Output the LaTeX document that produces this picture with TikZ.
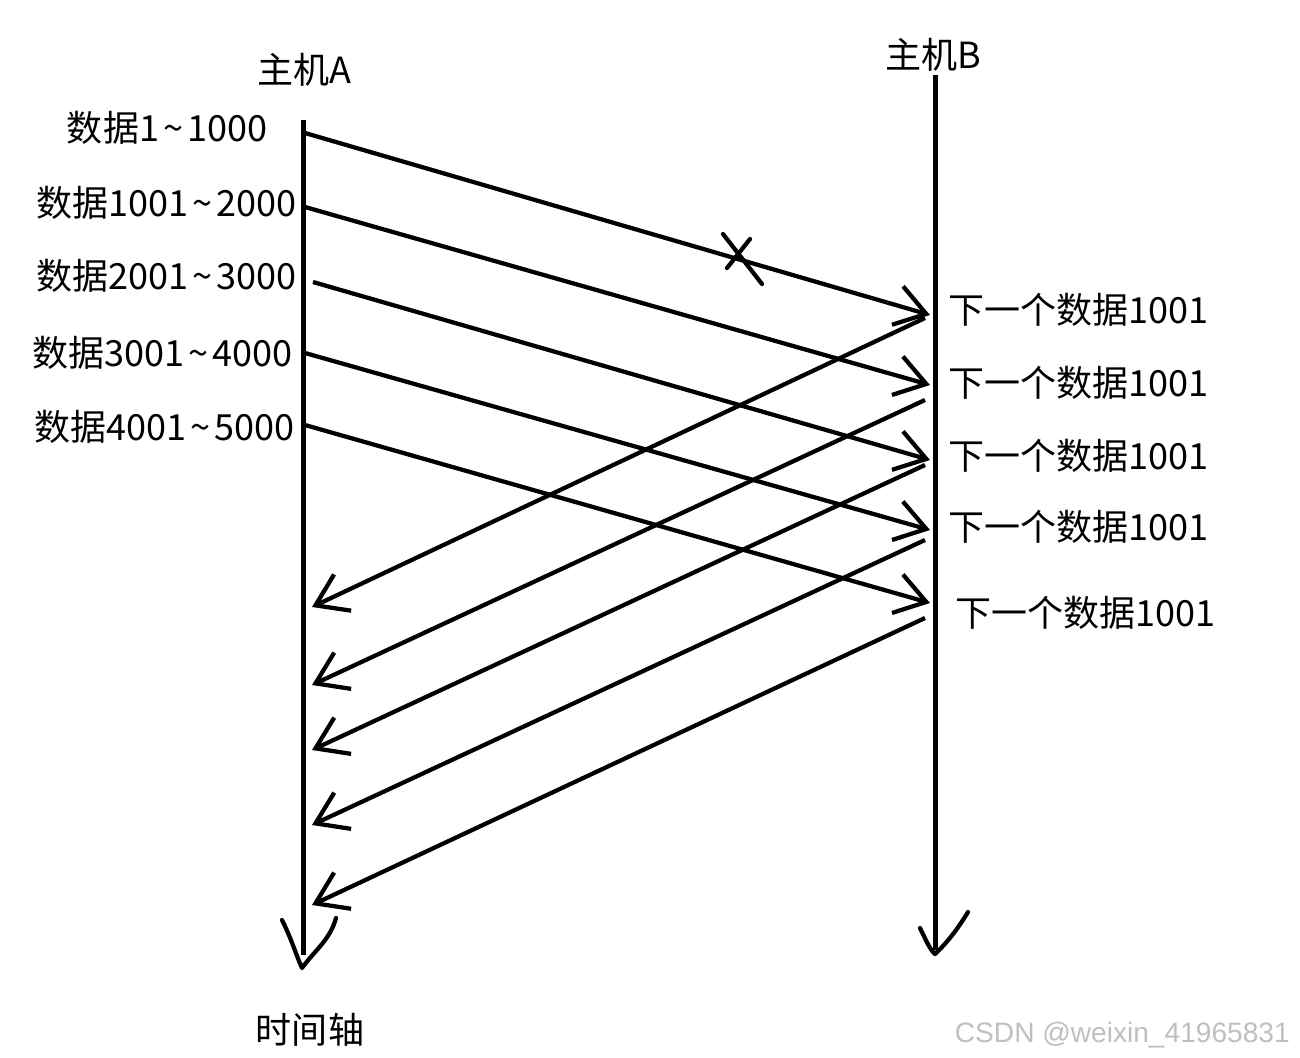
\documentclass[tikz,border=0pt]{standalone}
\usepackage{fontspec}
\setmainfont{Noto Sans CJK SC}
\newfontfamily\shuiyinfont{Liberation Sans}
\usetikzlibrary{arrows.meta}

\newcommand{\bolang}{\hspace{0.12em}\textasciitilde\hspace{0.12em}}

\tikzset{
  zhou/.style={line width=1mm},
  duan/.style={line width=0.85mm, -{Straight Barb[length=6mm,width=8mm,line width=0.85mm]}},
  shou/.style={line width=0.85mm, line cap=round, line join=round},
  biaoqian/.style={font=\fontsize{20.5}{20.5}\selectfont, inner sep=0pt},
}

\begin{document}
\begin{tikzpicture}[x=0.2mm, y=-0.2mm]
    \useasboundingbox (0,0) rectangle (1300,1058);

    % Zhuji A ir B laiko asys
    \coordinate (A0) at (303,120);
    \coordinate (A1) at (303,955);
    \coordinate (B0) at (935,75);
    \coordinate (B1) at (935,950);
    \draw[zhou] (A0) -- (A1);
    \draw[zhou] (B0) -- (B1);
    \draw[shou] (282,920) .. controls (292,940) and (296,955) .. (302,968)
        .. controls (315,950) and (330,940) .. (336,918);
    \draw[shou] (920,928) .. controls (926,940) and (930,950) .. (935,954)
        .. controls (950,940) and (960,925) .. (968,912);

    \node[biaoqian] (hostA) at (304,70) {主机A};
    \node[biaoqian] (hostB) at (933,55) {主机B};
    \node[biaoqian] (time) at (310,1030) {时间轴};

    % Duomenu segmentai A -> B
    \foreach \i/\xa/\xt/\ya/\yt/\yb/\t in {1/305/268/133/128/315/数据1\bolang1000,
                                           2/305/297/207/203/385/数据1001\bolang2000,
                                           3/313/297/282/276/460/数据2001\bolang3000,
                                           4/305/293/353/353/530/数据3001\bolang4000,
                                           5/305/295/425/427/603/数据4001\bolang5000} {
        \coordinate (s\i) at (\xa,\ya);
        \coordinate (r\i) at (930,\yb);
        \node[biaoqian, anchor=east] (d\i) at (\xt,\yt) {\t};
        \draw[duan] (s\i) -- (r\i);
    }

    % Patvirtinimai B -> A
    \foreach \i/\ya/\yb/\xt/\yt in {1/318/607/948/310,
                                    2/400/685/948/383,
                                    3/465/750/948/456,
                                    4/540/825/948/527,
                                    5/618/905/955/613} {
        \coordinate (k\i) at (925,\ya);
        \coordinate (h\i) at (312,\yb);
        \node[biaoqian, anchor=west] (x\i) at (\xt,\yt) {下一个数据1001};
        \draw[duan] (k\i) -- (h\i);
    }

    % Pamestas segmentas
    \draw[shou] (723,234) -- (762,284);
    \draw[shou] (750,239) -- (727,268);

    \node[font=\shuiyinfont\fontsize{16}{16}\selectfont, text=black!25, anchor=east]
        (mark) at (1296,1035) {CSDN @weixin\_41965831};
\end{tikzpicture}
\end{document}
